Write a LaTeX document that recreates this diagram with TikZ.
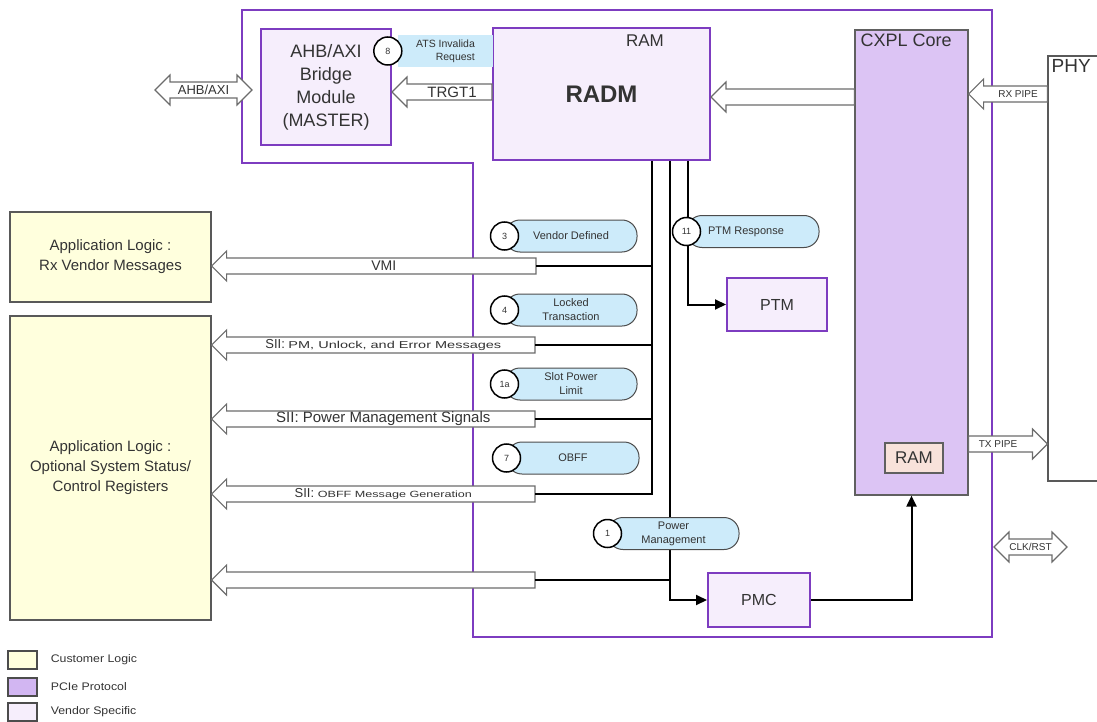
\documentclass[tikz,border=0pt]{standalone}
\usepackage{fontspec}
\setmainfont{Liberation Sans}
\usepackage{xcolor}
\usetikzlibrary{arrows.meta,calc,positioning}
\definecolor{vpurple}{HTML}{7D3CC0}
\definecolor{vspec}{HTML}{F6EEFC}
\definecolor{pcie}{HTML}{DCC4F4}
\definecolor{pcieleg}{HTML}{D2B6F2}
\definecolor{cust}{HTML}{FFFFDD}
\definecolor{msgblue}{HTML}{CDEBFA}
\definecolor{ramfill}{HTML}{F8E2DA}
\definecolor{txt}{HTML}{333333}
\newcommand\fsz[2]{\fontsize{#1}{#2}\selectfont}
\newcommand\hollow[3]{%
  \draw[fat] let \p1=#1, \p2=#2, \n1={ifthenelse(\x2>\x1,1,-1)} in
    (\x1,{\y1+8pt}) -- ({\x2-\n1*15pt},{\y1+8pt}) -- ({\x2-\n1*15pt},{\y1+15pt}) -- (\x2,\y1)
    -- ({\x2-\n1*15pt},{\y1-15pt}) -- ({\x2-\n1*15pt},{\y1-8pt}) -- (\x1,{\y1-8pt}) -- cycle
    node[fatlbl] at ({(\x1+\x2)/2-\n1*10pt},\y1) {#3};}
\newcommand\dhollow[3]{%
  \draw[fat] let \p1=#1, \p2=#2 in
    (\x1,\y1) -- ({\x1+15pt},{\y1+15pt}) -- ({\x1+15pt},{\y1+8pt}) -- ({\x2-15pt},{\y1+8pt})
    -- ({\x2-15pt},{\y1+15pt}) -- (\x2,\y1) -- ({\x2-15pt},{\y1-15pt}) -- ({\x2-15pt},{\y1-8pt})
    -- ({\x1+15pt},{\y1-8pt}) -- ({\x1+15pt},{\y1-15pt}) -- cycle
    node[fatlbl] at ({(\x1+\x2)/2},\y1) {#3};}

\begin{document}
\begin{tikzpicture}[x=1pt, y=-1pt, every node/.style={text=txt}, blk/.style={draw=vpurple, line width=2pt, fill=vspec, align=center, inner sep=0pt, font=\fsz{16}{19}}, core/.style={draw=gray!75!black, line width=1.2pt, fill=pcie, inner sep=0pt}, app/.style={draw=gray!70!black, line width=1.2pt, fill=cust, align=center, minimum width=201, font=\fsz{15}{20}}, pill/.style={draw=gray!60!black, line width=1pt, fill=msgblue, rounded corners=15pt, minimum height=32, inner sep=0pt, align=center, font=\fsz{11}{14}}, num/.style={circle, draw=black, line width=1.5pt, fill=white, minimum size=28, inner sep=0pt, font=\fsz{9}{10}}, fat/.style={draw=gray!85!black, line width=1.2pt, fill=white, line join=miter}, fatlbl/.style={inner sep=0pt, font=\fsz{13}{15}}, bus/.style={draw=black, line width=2pt}, arrowed/.style={-{Triangle[length=11pt,width=10pt]}}, pcieedge/.style={draw=vpurple, line width=2pt}, leg/.style={draw=gray!60!black, line width=1.2pt, minimum width=29, minimum height=18, inner sep=0pt}, legtxt/.style={inner sep=0pt, font=\fsz{11}{13}}]
\useasboundingbox (0,0) rectangle (1097,722);
\clip (0,0) rectangle (1097,722);
\draw[pcieedge] (242,10) -- (992,10) -- (992,637) -- (473,637) -- (473,163) -- (242,163) -- cycle;
\node[blk, minimum width=130, minimum height=116, font=\fsz{18}{23}] (bridge) at (326,87) {AHB/AXI\\Bridge\\Module\\(MASTER)};
\node[blk, minimum width=217, minimum height=132, font=\fsz{24}{28}\bfseries] (radm) at (601.5,94) {RADM};
\node[font=\fsz{17}{20}] (radmram) at (645,41) {RAM};
\node[core, minimum width=113, minimum height=465] (cxpl) at (911.5,262.5) {};
\node[anchor=north west, inner sep=1pt, font=\fsz{18}{20}] (cxpllbl) at ([shift={(5,3)}]cxpl.north west) {CXPL Core};
\node[draw=gray!75!black, line width=1.2pt, fill=ramfill, minimum width=58, minimum height=30, inner sep=0pt, font=\fsz{17}{20}] (cxplram) at (914,458) {RAM};
\node[draw=gray!70!black, line width=1.2pt, fill=white, minimum width=80, minimum height=425] (phy) at (1088,268.5) {};
\node[anchor=north west, inner sep=1pt, font=\fsz{19}{21}] (phylbl) at ([shift={(3,3)}]phy.north west) {PHY};
\node[app, minimum height=90] (app1) at (110.5,257) {Application Logic :\\Rx Vendor Messages};
\node[app, minimum height=304] (app2) at (110.5,468) {Application Logic :\\Optional System Status/\\Control Registers};
\node[blk, minimum width=100, minimum height=53] (ptm) at (777,304.5) {PTM};
\node[blk, minimum width=102, minimum height=54] (pmc) at (759,600) {PMC};
\node[fill=msgblue, minimum width=95, minimum height=32, inner sep=0pt, align=right, font=\fsz{10.5}{13}] (ats) at (445.5,51) {ATS Invalida\\Request};
\node[num] (n8) at ([xshift=-10]ats.west) {8};
\coordinate (ahbL) at (155,90);
\coordinate (ahbR) at (252,90);
\coordinate (clkL) at (994,547);
\coordinate (clkR) at (1067,547);
\coordinate (vmi) at (536,266);
\coordinate (pmu) at (535,345);
\coordinate (pms) at (535,419);
\coordinate (obff) at (535,494);
\coordinate (pwr) at (535,580);
\dhollow{(ahbL)}{(ahbR)}{\fsz{13}{15}AHB/AXI}
\dhollow{(clkL)}{(clkR)}{\fsz{10}{12}CLK/RST}
\hollow{(radm.west |- 0,92)}{(bridge.east |- 0,92)}{\fsz{15}{17}TRGT1}
\hollow{(cxpl.west |- 0,97)}{(radm.east |- 0,97)}{}
\hollow{(phy.west |- 0,94)}{(cxpl.east |- 0,94)}{\fsz{10}{12}RX PIPE}
\hollow{(cxpl.east |- 0,444)}{(phy.west |- 0,444)}{\fsz{10}{12}TX PIPE}
\hollow{(vmi)}{(app1.east |- vmi)}{\fsz{14}{16}VMI}
\hollow{(pmu)}{(app2.east |- pmu)}{{\fsz{13}{15}SII:} \scalebox{1.45}[1]{\fsz{10}{12}PM, Unlock, and Error Messages}}
\hollow{(pms)}{(app2.east |- pms)}{\fsz{15}{17}SII: Power Management Signals}
\hollow{(obff)}{(app2.east |- obff)}{{\fsz{13}{15}SII:} \scalebox{1.4}[1]{\fsz{9}{11}OBFF Message Generation}}
\hollow{(pwr)}{(app2.east |- pwr)}{}
\draw[bus] (radm.south -| 652,0) |- (obff);
\draw[bus] (vmi) -- (vmi -| 652,0);
\draw[bus] (pmu) -- (pmu -| 652,0);
\draw[bus] (pms) -- (pms -| 652,0);
\draw[bus,arrowed] (radm.south -| 670,0) |- (pmc.west);
\draw[bus] (pwr) -- (pwr -| 670,0);
\draw[bus,arrowed] (radm.south -| 688,0) |- (ptm.west);
\draw[bus,arrowed] (pmc.east) -| (cxpl.south);
\node[pill, minimum width=132] (vdm) at (571,236) {Vendor Defined};
\node[num] (n3) at (vdm.west) {3};
\node[pill, minimum width=132] (lck) at (571,310) {Locked\\Transaction};
\node[num] (n4) at (lck.west) {4};
\node[pill, minimum width=132] (spl) at (571,384) {Slot Power\\Limit};
\node[num] (n1a) at (spl.west) {1a};
\node[pill, minimum width=132] (obffmsg) at (573,458) {OBFF};
\node[num] (n7) at (obffmsg.west) {7};
\node[pill, minimum width=132] (ptmrsp) at (753,231.5) {PTM Response\hspace*{14pt}};
\node[num] (n11) at (ptmrsp.west) {11};
\node[pill, minimum width=131] (pwrmgt) at (673.5,533.5) {Power\\Management};
\node[num] (n1) at (pwrmgt.west) {1};
\node[leg, fill=cust] (lgcust) at (22.5,660) {};
\node[legtxt, right=13pt of lgcust] {\scalebox{1.12}[1]{Customer Logic}};
\node[leg, fill=pcieleg] (lgpcie) at (22.5,687) {};
\node[legtxt, right=13pt of lgpcie] {\scalebox{1.12}[1]{PCIe Protocol}};
\node[leg, fill=vspec] (lgvend) at (22.5,712) {};
\node[legtxt, right=13pt of lgvend] {\scalebox{1.12}[1]{Vendor Specific}};
\end{tikzpicture}
\end{document}
